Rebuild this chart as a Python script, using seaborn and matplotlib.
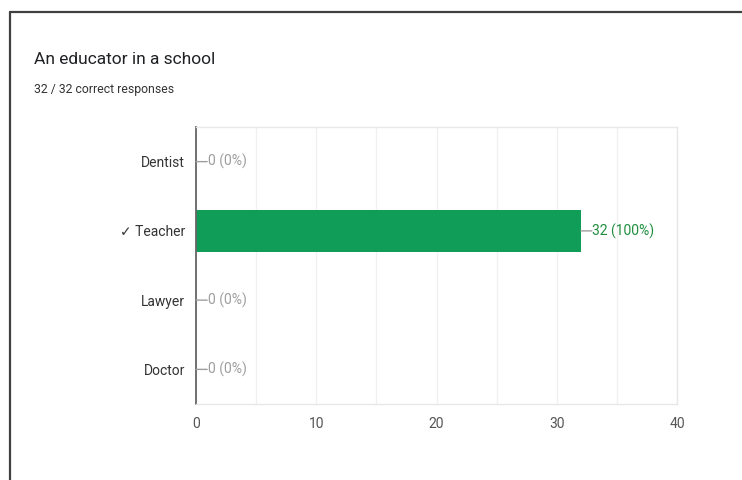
import matplotlib
matplotlib.use("Agg")

import matplotlib.pyplot as plt
from matplotlib.lines import Line2D
import pandas as pd
import seaborn as sns

# data
categories = ["Dentist", "\u2713 Teacher", "Lawyer", "Doctor"]
counts = [0, 32, 0, 0]
total_responses = 32
correct_responses = 32
x_ticks = [0, 10, 20, 30, 40]
grid_ticks = [5, 15, 25, 35]

title = "An educator in a school"
subtitle = f"{correct_responses} / {total_responses} correct responses"

sns.set_theme(style="white")
plt.rcParams["font.family"] = ["Roboto", "DejaVu Sans"]

df = pd.DataFrame({"Answer": categories, "Count": counts})

fig = plt.figure(figsize=(7.42, 4.8), dpi=100)
ax = fig.add_axes([0.2642, 0.1583, 0.6482, 0.5771])

sns.barplot(
    data=df,
    x="Count",
    y="Answer",
    orient="h",
    color="#0f9d58",
    saturation=1,
    width=0.61,
    linewidth=0,
    ax=ax,
)

ax.set_xlim(0, 40)
ax.set_xticks(x_ticks)
ax.set_xticks(grid_ticks, minor=True)
ax.grid(axis="x", which="both", color="#f0f0f0", linewidth=1)
ax.set_axisbelow(True)
ax.tick_params(axis="x", which="both", length=0, pad=9, labelsize=10, labelcolor="#555555")
ax.tick_params(axis="y", length=0, pad=8, labelsize=10, labelcolor="#333333")
ax.set_xlabel("")
ax.set_ylabel("")

for side in ["top", "right", "bottom"]:
    ax.spines[side].set_color("#e8e8e8")
    ax.spines[side].set_linewidth(1)
ax.spines["left"].set_color("#666666")
ax.spines["left"].set_linewidth(1.3)

for i, value in enumerate(counts):
    pct = round(100 * value / total_responses)
    text_color = "#1e8e3e" if value > 0 else "#9e9e9e"
    # short leader line from the bar end
    ax.annotate(
        "",
        xy=(value, i),
        xytext=(8, 0),
        textcoords="offset points",
        arrowprops=dict(arrowstyle="-", color="#9e9e9e", lw=1, shrinkA=0, shrinkB=0),
    )
    ax.annotate(
        f"{value} ({pct}%)",
        xy=(value, i),
        xytext=(8.3, 0),
        textcoords="offset points",
        ha="left",
        va="center",
        fontsize=10,
        color=text_color,
    )

fig.text(34 / 742, 1 - 60 / 480, title, fontsize=12.5, color="#202124", va="center", ha="left")
fig.text(34 / 742, 1 - 89 / 480, subtitle, fontsize=8.8, color="#333333", va="center", ha="left")

# card border: top and left edges
fig.add_artist(Line2D([10 / 742, 1], [1 - 12 / 480, 1 - 12 / 480], color="#404040", linewidth=1.6))
fig.add_artist(Line2D([10 / 742, 10 / 742], [0, 1 - 12 / 480], color="#404040", linewidth=1.6))

fig.savefig("out.png", dpi=100, facecolor="white")
plt.close(fig)
